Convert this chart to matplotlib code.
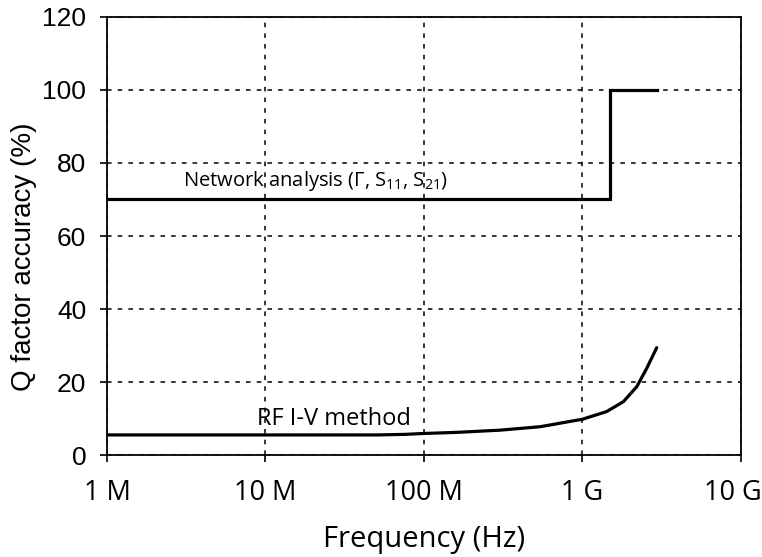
import numpy as np
import matplotlib
matplotlib.use('Agg')
import matplotlib.pyplot as plt
import matplotlib.ticker as ticker
import matplotlib.transforms as mtrans

plt.rcParams['font.family'] = ['Open Sans', 'DejaVu Sans']
plt.rcParams['mathtext.fontset'] = 'custom'
plt.rcParams['mathtext.rm'] = 'Open Sans'
plt.rcParams['mathtext.it'] = 'Open Sans'

# network analysis accuracy (step)
na_freq = [1e6, 1.5e9, 1.5e9, 2.95e9]
na_acc = [70, 70, 100, 100]

# RF I-V method accuracy
iv_freq = [1e6, 1e7, 5e7, 7.5e7, 1.0e8, 1.6e8, 3.0e8, 5.4e8, 1.0e9, 1.42e9, 1.81e9, 2.2e9, 2.54e9, 2.94e9]
iv_acc = [5.5, 5.5, 5.5, 5.65, 5.9, 6.2, 6.8, 7.75, 9.8, 11.9, 14.6, 18.7, 23.7, 29.4]

xticks = [1e6, 1e7, 1e8, 1e9, 1e10]
xlabels = ['1 M', '10 M', '100 M', '1 G', '10 G']
yticks = [0, 20, 40, 60, 80, 100, 120]

fig = plt.figure(figsize=(7.62, 5.57), dpi=100)
ax = fig.add_axes([0.1404, 0.1831, 0.8320, 0.7864])

ax.plot(na_freq, na_acc, color='black', lw=2.3, solid_joinstyle='miter')
ax.plot(iv_freq, iv_acc, color='black', lw=2.3, solid_capstyle='round',
        solid_joinstyle='round')

ax.set_xscale('log')
ax.set_xlim(1e6, 1e10)
ax.set_ylim(0, 120)
ax.set_xticks(xticks)
ax.set_xticklabels(xlabels)
ax.xaxis.set_minor_locator(ticker.NullLocator())
ax.set_yticks(yticks)

ax.grid(True, color='black', linestyle=(0, (3, 4)), lw=1.1)
ax.tick_params(axis='both', direction='out', length=5, width=1.2, color='black')
ax.tick_params(axis='y', labelsize=19, pad=10)
ax.tick_params(axis='x', labelsize=19.5, pad=12)
for lab in ax.get_yticklabels():
    lab.set_family('Liberation Sans')
for s in ax.spines.values():
    s.set_linewidth(1.3)

# keep the last x label inside the figure
last = ax.get_xticklabels()[-1]
last.set_transform(last.get_transform() +
                   mtrans.ScaledTranslation(-8 / 100, 0, fig.dpi_scale_trans))

ax.set_xlabel('Frequency (Hz)', fontsize=21, labelpad=13)
ax.set_ylabel('Q factor accuracy (%)', fontsize=20, family='Liberation Sans')
ax.yaxis.set_label_coords(-0.11, 0.452)

ax.text(3.0e6, 75, 'Network analysis (\u0393, S$_{11}$, S$_{21}$)', fontsize=14.5,
        va='center', ha='left')
ax.text(8.8e6, 9.8, 'RF I-V method', fontsize=17, va='center', ha='left')

plt.savefig('out.png', dpi=100)
